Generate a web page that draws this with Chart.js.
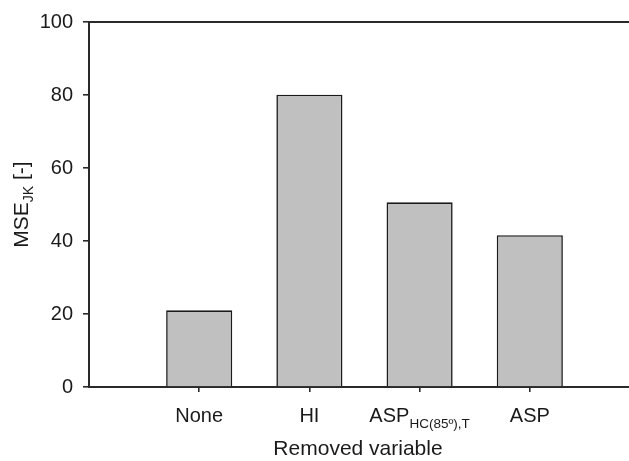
<!DOCTYPE html>
<html>
<head>
<meta charset="utf-8">
<script src="https://cdn.jsdelivr.net/npm/chart.js@4/dist/chart.umd.min.js"></script>
<style>
  html, body { margin: 0; padding: 0; background: #fff; overflow: hidden; }
  #wrap { width: 640px; height: 461px; }
</style>
</head>
<body>
<div id="wrap"><canvas id="c" width="640" height="461"></canvas></div>
<script>
// ---- data ----
const categories = ['None', 'HI', 'ASP', 'ASP'];
const subscripts = ['', '', 'HC(85º),T', ''];
const values = [21.0, 80.1, 50.6, 41.6];
const yTicks = [0, 20, 40, 60, 80, 100];
const yTitleMain = 'MSE';
const yTitleSub = 'JK';
const yTitleRest = ' [-]';
const xTitle = 'Removed variable';

const FONT = '"Liberation Sans", Arial, Helvetica, sans-serif';
const TXT = '#1a1a1a';
const AX = '#2a2a2a';

// padded labels: empty slot at start and end of the axis
const labels = [''].concat(categories, ['']);
const data = [null].concat(values, [null]);

function drawRuns(ctx, runs, cx, cy) {
  let total = 0;
  runs.forEach(r => { ctx.font = r.size + 'px ' + FONT; r.w = ctx.measureText(r.t).width; total += r.w; });
  let x = cx - total / 2;
  runs.forEach(r => {
    ctx.font = r.size + 'px ' + FONT;
    ctx.textAlign = 'left';
    ctx.textBaseline = 'alphabetic';
    ctx.fillText(r.t, x, cy + (r.dy || 0));
    x += r.w;
  });
}

const customText = {
  id: 'customText',
  afterDraw(chart) {
    const ctx = chart.ctx;
    const ca = chart.chartArea;
    const xs = chart.scales.x;
    ctx.save();
    ctx.strokeStyle = AX;
    ctx.lineWidth = 2;
    ctx.beginPath();
    ctx.moveTo(ca.left - 1, ca.top);
    ctx.lineTo(ca.right, ca.top);
    ctx.stroke();

    ctx.fillStyle = TXT;
    categories.forEach((c, i) => {
      const px = xs.getPixelForValue(i + 1);
      const runs = [{ t: c, size: 20, dy: 0 }];
      if (subscripts[i]) runs.push({ t: subscripts[i], size: 13.5, dy: 6 });
      drawRuns(ctx, runs, px, 422);
    });
    drawRuns(ctx, [{ t: xTitle, size: 21, dy: 0 }], 358, 455);
    ctx.save();
    ctx.translate(28, (ca.top + ca.bottom) / 2);
    ctx.rotate(-Math.PI / 2);
    drawRuns(ctx, [
      { t: yTitleMain, size: 21, dy: 0 },
      { t: yTitleSub, size: 14, dy: 5 },
      { t: yTitleRest, size: 21, dy: 0 }
    ], 0, 0);
    ctx.restore();
    ctx.restore();
  }
};

new Chart(document.getElementById('c'), {
  type: 'bar',
  data: {
    labels: labels,
    datasets: [{
      data: data,
      backgroundColor: '#c0c0c0',
      borderColor: '#1a1a1a',
      borderWidth: 1.6,
      borderSkipped: 'start',
      barPercentage: 0.6,
      categoryPercentage: 1.0
    }]
  },
  options: {
    responsive: false,
    animation: false,
    devicePixelRatio: 1,
    layout: { padding: { left: 0, right: 0, top: 21, bottom: 0 } },
    plugins: { legend: { display: false }, tooltip: { enabled: false } },
    scales: {
      x: {
        type: 'category',
        offset: false,
        grid: {
          offset: false,
          drawOnChartArea: false,
          drawTicks: true,
          tickLength: 5,
          lineWidth: 1.6,
          tickColor: (ctx) => (ctx.index === 0 || ctx.index === labels.length - 1) ? 'rgba(0,0,0,0)' : AX
        },
        border: { display: true, color: AX, width: 2 },
        ticks: { display: false },
        afterFit(scale) { scale.height = 461 - 387; }
      },
      y: {
        min: 0,
        max: 100,
        afterBuildTicks(scale) { scale.ticks = yTicks.map(v => ({ value: v })); },
        grid: { drawOnChartArea: false, drawTicks: true, tickLength: 6, lineWidth: 1.6, tickColor: AX },
        border: { display: true, color: AX, width: 2 },
        ticks: {
          color: TXT,
          padding: 10,
          font: { family: FONT, size: 20 }
        },
        afterFit(scale) { scale.width = 89; }
      }
    }
  },
  plugins: [customText]
});
</script>
</body>
</html>
